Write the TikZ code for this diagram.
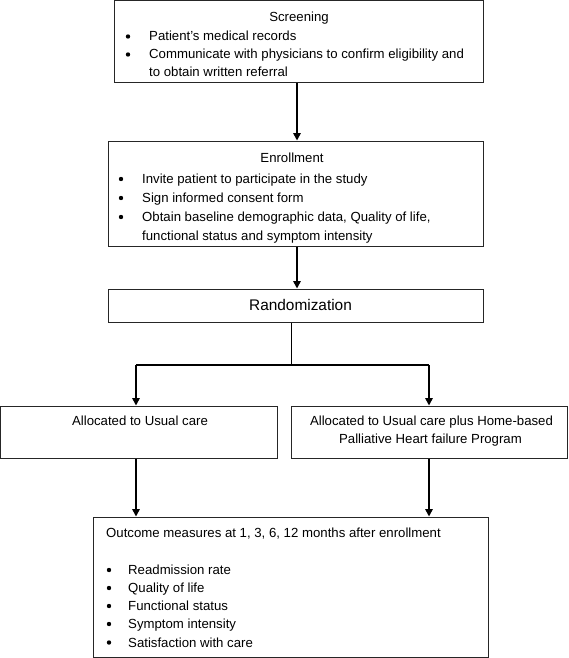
\documentclass[tikz,border=0pt]{standalone}
\usepackage{fontspec}
\setmainfont{Liberation Sans}
\usetikzlibrary{arrows.meta}
\begin{document}
\begin{tikzpicture}[x=1pt,y=-1pt,
  box/.style={draw=black!85, line width=1pt, rectangle, inner sep=0pt, fill=white},
  txt/.style={font=\fontsize{13.2}{18}\selectfont, inner sep=0pt, anchor=base west},
  ctxt/.style={font=\fontsize{13.2}{18}\selectfont, inner sep=0pt, anchor=base},
  bul/.style={circle, fill=black, inner sep=0pt, minimum size=4.4pt},
  arr/.style={line width=1.6pt, -{Triangle[width=7.5pt,length=7.5pt]}},
  ln/.style={line width=1pt}
]
\useasboundingbox (0,0) rectangle (568,658);
% boxes
\node[box, minimum width=369pt, minimum height=82pt] (scr) at (298.5,42) {};
\node[box, minimum width=375pt, minimum height=105pt] (enr) at (295.5,193.5) {};
\node[box, minimum width=375pt, minimum height=33pt] (rnd) at (295.5,305.5) {};
\node[box, minimum width=276.5pt, minimum height=52pt] (lft) at (138.75,432) {};
\node[box, minimum width=276pt, minimum height=52pt] (rgt) at (429,432) {};
\node[box, minimum width=395pt, minimum height=140pt] (out) at (290.5,587) {};
% screening text
\node[ctxt] (scrt) at (299,21.5) {Screening};
\node[bul] (sb1) at (128,36.5) {};
\node[txt] (s1) at (149,41) {Patient’s medical records};
\node[bul] (sb2) at (128,54.5) {};
\node[txt] (s2) at (149,59) {Communicate with physicians to confirm eligibility and};
\node[txt] (s3) at (149,77) {to obtain written referral};
% enrollment text
\node[ctxt] (enrt) at (292,162.5) {Enrollment};
\node[bul] (eb1) at (121,179) {};
\node[txt] (e1) at (142,183.5) {Invite patient to participate in the study};
\node[bul] (eb2) at (121,198) {};
\node[txt] (e2) at (142,202.5) {Sign informed consent form};
\node[bul] (eb3) at (121,217) {};
\node[txt] (e3) at (142,221.5) {Obtain baseline demographic data, Quality of life,};
\node[txt] (e4) at (142,240.5) {functional status and symptom intensity};
% randomization
\node[font=\fontsize{15.4}{18}\selectfont, inner sep=0pt, anchor=base] (rndt) at (300.5,310.5) {Randomization};
% allocations
\node[ctxt] (lt) at (140,425.5) {Allocated to Usual care};
\node[ctxt] (rt1) at (431.5,425.5) {Allocated to Usual care plus Home-based};
\node[ctxt] (rt2) at (430.5,443) {Palliative Heart failure Program};
% outcome
\node[txt] (ot) at (106,537.5) {Outcome measures at 1, 3, 6, 12 months after enrollment};
\node[bul] (ob1) at (109,570) {};
\node[txt] (o1) at (128,574.5) {Readmission rate};
\node[bul] (ob2) at (109,588) {};
\node[txt] (o2) at (128,592.5) {Quality of life};
\node[bul] (ob3) at (109,606) {};
\node[txt] (o3) at (128,610.5) {Functional status};
\node[bul] (ob4) at (109,624) {};
\node[txt] (o4) at (128,628.5) {Symptom intensity};
\node[bul] (ob5) at (109,642.5) {};
\node[txt] (o5) at (128,647) {Satisfaction with care};
% connectors
\coordinate (cx) at (297,0);
\coordinate (cr) at (291,0);
\coordinate (jy) at (0,365);
\coordinate (xl) at (136,0);
\coordinate (xr) at (429,0);
\draw[arr] (cx |- scr.south) -- (cx |- enr.north);
\draw[arr] (cx |- enr.south) -- (cx |- rnd.north);
\draw[ln] (cr |- rnd.south) -- (cr |- jy);
\draw[line width=1.4pt] (xl |- jy) -- (xr |- jy);
\draw[arr] (xl |- jy) -- (xl |- lft.north);
\draw[arr] (xr |- jy) -- (xr |- rgt.north);
\draw[arr] (xl |- lft.south) -- (xl |- out.north);
\draw[arr] (xr |- rgt.south) -- (xr |- out.north);
\end{tikzpicture}
\end{document}
